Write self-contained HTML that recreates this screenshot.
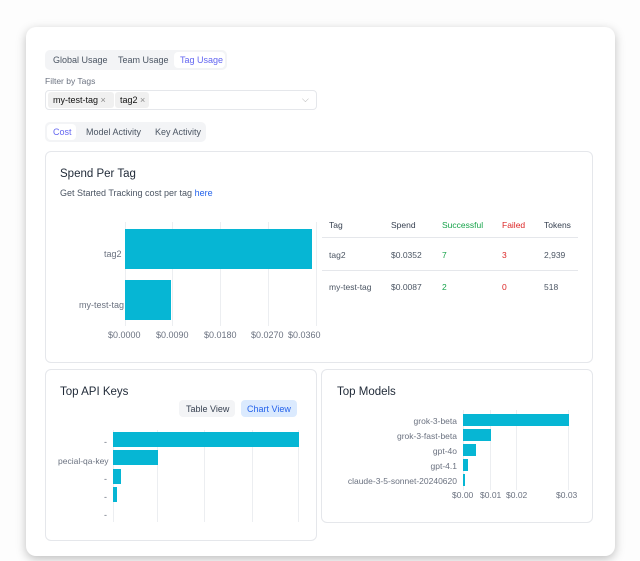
<!DOCTYPE html><html><head><style>
body{margin:0;width:640px;height:561px;background:#fdfdfd;font-family:"Liberation Sans",sans-serif;position:relative;overflow:hidden;color:#374151}
div,span{position:absolute;box-sizing:border-box}
.card{background:#fff;border:1px solid #e5e7eb;border-radius:6px}
.t{font-size:9px;white-space:nowrap}
.g{background:#eceef1;width:1px}
.bar{background:#06b6d4}
</style></head><body>
<div style="left:26px;top:27px;width:589px;height:529px;background:#fff;border-radius:10px;box-shadow:0 3px 10px rgba(0,0,0,.25)"></div>
<div style="left:45px;top:50px;width:182px;height:20px;background:#f3f4f6;border-radius:5px"></div>
<div class="t" style="left:53px;top:55px;color:#4b5563">Global Usage</div>
<div class="t" style="left:118px;top:55px;color:#4b5563">Team Usage</div>
<div style="left:174px;top:52px;width:51px;height:16px;background:#fff;border-radius:4px"></div>
<div class="t" style="left:180px;top:55px;color:#6366f1">Tag Usage</div>
<div class="t" style="left:45px;top:76px;color:#6b7280;font-size:8.5px">Filter by Tags</div>
<div style="left:45px;top:90px;width:272px;height:20px;border:1px solid #e5e7eb;border-radius:4px;background:#fff"></div>
<div style="left:48px;top:92px;width:66px;height:16px;background:#f0f0f0;border-radius:3px"></div>
<div class="t" style="left:53px;top:95px;color:#111">my-test-tag <span style="position:static;color:#888">×</span></div>
<div style="left:115px;top:92px;width:34px;height:16px;background:#f0f0f0;border-radius:3px"></div>
<div class="t" style="left:120px;top:95px;color:#111">tag2 <span style="position:static;color:#888">×</span></div>
<div class="t" style="left:302px;top:94px;color:#aaa">⌵</div>
<div style="left:45px;top:122px;width:161px;height:20px;background:#f3f4f6;border-radius:5px"></div>
<div style="left:47px;top:124px;width:29px;height:16px;background:#fff;border-radius:4px"></div>
<div class="t" style="left:53px;top:127px;color:#6366f1">Cost</div>
<div class="t" style="left:86px;top:127px;color:#4b5563">Model Activity</div>
<div class="t" style="left:155px;top:127px;color:#4b5563">Key Activity</div>

<div class="card" style="left:45px;top:151px;width:548px;height:212px"></div>
<div class="t" style="left:60px;top:168px;font-size:11.5px;color:#1f2937">Spend Per Tag</div>
<div class="t" style="left:60px;top:188px;color:#4b5563">Get Started Tracking cost per tag <span style="position:static;color:#2563eb">here</span></div>
<div class="g" style="left:125px;top:222px;height:104px"></div>
<div class="g" style="left:172px;top:222px;height:104px"></div>
<div class="g" style="left:220px;top:222px;height:104px"></div>
<div class="g" style="left:268px;top:222px;height:104px"></div>
<div class="g" style="left:316px;top:222px;height:104px"></div>
<div class="bar" style="left:125px;top:229px;width:187px;height:40px"></div>
<div class="bar" style="left:125px;top:280px;width:46px;height:40px"></div>
<div class="t" style="left:104px;top:249px;color:#6b7280">tag2</div>
<div class="t" style="left:79px;top:300px;color:#6b7280">my-test-tag</div>
<div class="t" style="left:108px;top:330px;color:#6b7280">$0.0000</div>
<div class="t" style="left:156px;top:330px;color:#6b7280">$0.0090</div>
<div class="t" style="left:204px;top:330px;color:#6b7280">$0.0180</div>
<div class="t" style="left:251px;top:330px;color:#6b7280">$0.0270</div>
<div class="t" style="left:288px;top:330px;color:#6b7280">$0.0360</div>
<div class="t" style="left:329px;top:220px;color:#374151;font-size:8.5px">Tag</div>
<div class="t" style="left:391px;top:220px;color:#374151;font-size:8.5px">Spend</div>
<div class="t" style="left:442px;top:220px;color:#16a34a;font-size:8.5px">Successful</div>
<div class="t" style="left:502px;top:220px;color:#dc2626;font-size:8.5px">Failed</div>
<div class="t" style="left:544px;top:220px;color:#374151;font-size:8.5px">Tokens</div>
<div style="left:322px;top:237px;width:256px;height:1px;background:#e5e7eb"></div>
<div class="t" style="left:329px;top:250px;color:#4b5563;font-size:8.5px">tag2</div>
<div class="t" style="left:391px;top:250px;color:#4b5563;font-size:8.5px">$0.0352</div>
<div class="t" style="left:442px;top:250px;color:#16a34a;font-size:8.5px">7</div>
<div class="t" style="left:502px;top:250px;color:#dc2626;font-size:8.5px">3</div>
<div class="t" style="left:544px;top:250px;color:#4b5563;font-size:8.5px">2,939</div>
<div style="left:322px;top:270px;width:256px;height:1px;background:#e5e7eb"></div>
<div class="t" style="left:329px;top:282px;color:#4b5563;font-size:8.5px">my-test-tag</div>
<div class="t" style="left:391px;top:282px;color:#4b5563;font-size:8.5px">$0.0087</div>
<div class="t" style="left:442px;top:282px;color:#16a34a;font-size:8.5px">2</div>
<div class="t" style="left:502px;top:282px;color:#dc2626;font-size:8.5px">0</div>
<div class="t" style="left:544px;top:282px;color:#4b5563;font-size:8.5px">518</div>

<div class="card" style="left:45px;top:369px;width:272px;height:172px;overflow:hidden">
<div class="t" style="left:14px;top:16px;font-size:11.5px;color:#1f2937">Top API Keys</div>
<div style="left:133px;top:30px;width:56px;height:17px;background:#f3f4f6;border-radius:4px"></div>
<div class="t" style="left:140px;top:34px;color:#374151">Table View</div>
<div style="left:195px;top:30px;width:56px;height:17px;background:#dbeafe;border-radius:4px"></div>
<div class="t" style="left:201px;top:34px;color:#2563eb">Chart View</div>
<div class="g" style="left:67px;top:60px;height:92px"></div>
<div class="g" style="left:111px;top:60px;height:92px"></div>
<div class="g" style="left:158px;top:60px;height:92px"></div>
<div class="g" style="left:206px;top:60px;height:92px"></div>
<div class="g" style="left:252px;top:60px;height:92px"></div>
<div class="bar" style="left:67px;top:62px;width:186px;height:15px"></div>
<div class="bar" style="left:67px;top:80px;width:45px;height:15px"></div>
<div class="bar" style="left:67px;top:99px;width:8px;height:15px"></div>
<div class="bar" style="left:67px;top:117px;width:4px;height:15px"></div>
<div class="t" style="left:58px;top:67px;color:#6b7280">-</div>
<div class="t" style="left:12px;top:86px;color:#6b7280;font-size:8.5px">pecial-qa-key</div>
<div class="t" style="left:58px;top:104px;color:#6b7280">-</div>
<div class="t" style="left:58px;top:122px;color:#6b7280">-</div>
<div class="t" style="left:58px;top:140px;color:#6b7280">-</div>
</div>

<div class="card" style="left:321px;top:369px;width:272px;height:154px">
<div class="t" style="left:15px;top:16px;font-size:11.5px;color:#1f2937">Top Models</div>
<div class="g" style="left:141px;top:40px;height:80px"></div>
<div class="g" style="left:168px;top:40px;height:80px"></div>
<div class="g" style="left:194px;top:40px;height:80px"></div>
<div class="g" style="left:246px;top:40px;height:80px"></div>
<div class="bar" style="left:141px;top:44px;width:106px;height:12px"></div>
<div class="bar" style="left:141px;top:59px;width:28px;height:12px"></div>
<div class="bar" style="left:141px;top:74px;width:13px;height:12px"></div>
<div class="bar" style="left:141px;top:89px;width:5px;height:12px"></div>
<div class="bar" style="left:141px;top:104px;width:2px;height:12px"></div>
<div class="t" style="right:135px;top:46px;color:#6b7280;font-size:8.5px">grok-3-beta</div>
<div class="t" style="right:135px;top:61px;color:#6b7280;font-size:8.5px">grok-3-fast-beta</div>
<div class="t" style="right:135px;top:76px;color:#6b7280;font-size:8.5px">gpt-4o</div>
<div class="t" style="right:135px;top:91px;color:#6b7280;font-size:8.5px">gpt-4.1</div>
<div class="t" style="right:135px;top:106px;color:#6b7280;font-size:8.5px">claude-3-5-sonnet-20240620</div>
<div class="t" style="left:130px;top:120px;color:#6b7280;font-size:8.5px">$0.00</div>
<div class="t" style="left:158px;top:120px;color:#6b7280;font-size:8.5px">$0.01</div>
<div class="t" style="left:184px;top:120px;color:#6b7280;font-size:8.5px">$0.02</div>
<div class="t" style="left:234px;top:120px;color:#6b7280;font-size:8.5px">$0.03</div>
</div>
</body></html>
